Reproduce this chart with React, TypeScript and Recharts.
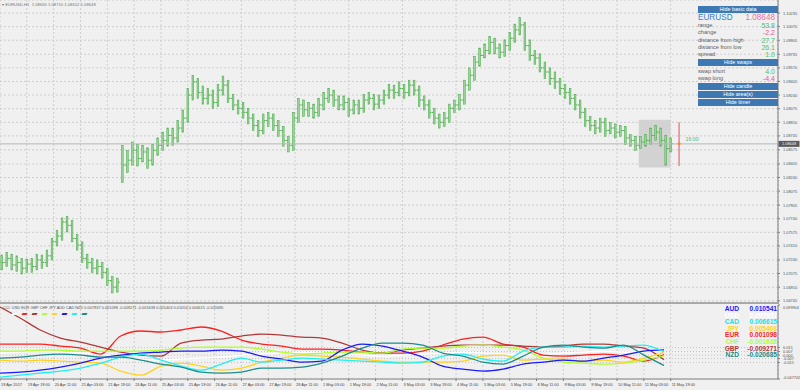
import React from "react";
import {
  ComposedChart,
  Bar,
  Line,
  XAxis,
  YAxis,
  CartesianGrid,
  ReferenceLine,
  ReferenceArea,
  ReferenceDot,
} from "recharts";

// EURUSD, 3-hour blocks: [high, low, close]
const candles: [number, number, number][] = [
  [1.0730, 1.0712, 1.0721], [1.0733, 1.0716, 1.0726], [1.0731, 1.0712, 1.0718], [1.0729, 1.0710, 1.0721],
  [1.0726, 1.0707, 1.0714], [1.0725, 1.0709, 1.0719], [1.0726, 1.0709, 1.0716], [1.0731, 1.0712, 1.0724],
  [1.0730, 1.0714, 1.0721], [1.0736, 1.0716, 1.0729], [1.0750, 1.0724, 1.0746], [1.0760, 1.0741, 1.0753],
  [1.0775, 1.0748, 1.0770], [1.0777, 1.0758, 1.0766], [1.0772, 1.0746, 1.0750], [1.0755, 1.0736, 1.0742],
  [1.0746, 1.0721, 1.0726], [1.0731, 1.0714, 1.0721], [1.0726, 1.0709, 1.0714], [1.0724, 1.0707, 1.0716],
  [1.0721, 1.0702, 1.0709], [1.0714, 1.0693, 1.0699], [1.0704, 1.0684, 1.0691], [1.0702, 1.0685, 1.0697],
  [1.0863, 1.0818, 1.0839], [1.0857, 1.0830, 1.0845], [1.0867, 1.0839, 1.0857], [1.0864, 1.0838, 1.0847],
  [1.0863, 1.0843, 1.0855], [1.0860, 1.0835, 1.0845], [1.0864, 1.0839, 1.0857], [1.0872, 1.0851, 1.0863],
  [1.0879, 1.0857, 1.0869], [1.0884, 1.0862, 1.0875], [1.0884, 1.0863, 1.0872], [1.0893, 1.0867, 1.0884],
  [1.0906, 1.0879, 1.0896], [1.0932, 1.0891, 1.0924], [1.0948, 1.0918, 1.0940], [1.0944, 1.0920, 1.0927],
  [1.0935, 1.0913, 1.0920], [1.0932, 1.0913, 1.0924], [1.0930, 1.0908, 1.0915], [1.0937, 1.0910, 1.0930],
  [1.0947, 1.0924, 1.0936], [1.0942, 1.0915, 1.0920], [1.0925, 1.0906, 1.0912], [1.0918, 1.0901, 1.0908],
  [1.0915, 1.0896, 1.0903], [1.0908, 1.0889, 1.0896], [1.0901, 1.0881, 1.0887], [1.0893, 1.0874, 1.0881],
  [1.0901, 1.0877, 1.0893], [1.0903, 1.0886, 1.0896], [1.0901, 1.0881, 1.0887], [1.0893, 1.0874, 1.0881],
  [1.0886, 1.0862, 1.0869], [1.0874, 1.0855, 1.0863], [1.0903, 1.0857, 1.0896], [1.0920, 1.0891, 1.0912],
  [1.0918, 1.0898, 1.0906], [1.0915, 1.0898, 1.0908], [1.0913, 1.0896, 1.0903], [1.0920, 1.0898, 1.0912],
  [1.0927, 1.0906, 1.0920], [1.0932, 1.0915, 1.0924], [1.0930, 1.0910, 1.0918], [1.0923, 1.0906, 1.0912],
  [1.0923, 1.0906, 1.0915], [1.0920, 1.0898, 1.0906], [1.0918, 1.0901, 1.0912], [1.0918, 1.0901, 1.0908],
  [1.0925, 1.0903, 1.0918], [1.0927, 1.0913, 1.0920], [1.0925, 1.0906, 1.0913], [1.0924, 1.0908, 1.0918],
  [1.0930, 1.0913, 1.0924], [1.0937, 1.0920, 1.0930], [1.0936, 1.0920, 1.0927], [1.0940, 1.0923, 1.0932],
  [1.0937, 1.0920, 1.0927], [1.0942, 1.0923, 1.0936], [1.0942, 1.0924, 1.0930], [1.0935, 1.0910, 1.0918],
  [1.0923, 1.0906, 1.0912], [1.0918, 1.0896, 1.0903], [1.0908, 1.0889, 1.0896], [1.0901, 1.0884, 1.0891],
  [1.0903, 1.0886, 1.0896], [1.0913, 1.0891, 1.0908], [1.0918, 1.0903, 1.0912], [1.0925, 1.0906, 1.0918],
  [1.0942, 1.0913, 1.0936], [1.0957, 1.0930, 1.0948], [1.0971, 1.0942, 1.0964], [1.0981, 1.0959, 1.0972],
  [1.0986, 1.0969, 1.0978], [1.0995, 1.0974, 1.0988], [1.0993, 1.0974, 1.0981], [1.0986, 1.0969, 1.0976],
  [1.0991, 1.0971, 1.0984], [1.1000, 1.0978, 1.0993], [1.1010, 1.0988, 1.1003], [1.1018, 1.0997, 1.1009],
  [1.1012, 1.0978, 1.0984], [1.0991, 1.0966, 1.0972], [1.0978, 1.0961, 1.0969], [1.0974, 1.0952, 1.0957],
  [1.0964, 1.0944, 1.0952], [1.0957, 1.0937, 1.0944], [1.0952, 1.0932, 1.0940], [1.0944, 1.0925, 1.0932],
  [1.0937, 1.0920, 1.0927], [1.0932, 1.0913, 1.0920], [1.0925, 1.0906, 1.0912], [1.0918, 1.0896, 1.0903],
  [1.0908, 1.0886, 1.0893], [1.0898, 1.0881, 1.0887], [1.0893, 1.0877, 1.0884], [1.0896, 1.0879, 1.0891],
  [1.0896, 1.0874, 1.0881], [1.0891, 1.0877, 1.0884], [1.0889, 1.0872, 1.0879], [1.0887, 1.0874, 1.0881],
  [1.0886, 1.0864, 1.0872], [1.0876, 1.0862, 1.0869], [1.0874, 1.0857, 1.0863], [1.0874, 1.0859, 1.0867],
  [1.0876, 1.0862, 1.0869], [1.0884, 1.0864, 1.0875], [1.0887, 1.0869, 1.0879], [1.0884, 1.0862, 1.0869],
  [1.0875, 1.0839, 1.0859], [1.0872, 1.0855, 1.0865],
];

// currency strength lines, one point every 12 bars
const usd = [0.004, 0.006, 0.008, 0.006, 0.004, 0.002, -0.004, -0.008, -0.010, -0.008, -0.006, -0.004, 0.000, 0.002, 0.004, 0.006, 0.004, 0.002, 0.000, -0.002, 0.000, 0.002, 0.004, 0.006, 0.004, 0.002, 0.000, 0.002, 0.004, 0.006, 0.008, 0.006, 0.008, 0.0079];
const eur = [0.022, 0.022, 0.022, 0.018, 0.014, 0.002, 0.038, 0.048, 0.046, 0.050, 0.056, 0.048, 0.030, 0.022, 0.018, 0.012, 0.012, 0.010, 0.006, 0.004, 0.004, 0.008, 0.020, 0.032, 0.036, 0.022, 0.016, 0.000, -0.002, 0.000, 0.002, -0.002, -0.012, 0.0011];
const gbp = [0.096, 0.074, 0.050, 0.034, 0.026, 0.016, 0.006, 0.000, -0.002, 0.024, 0.030, 0.032, 0.038, 0.042, 0.040, 0.036, 0.034, 0.024, 0.010, 0.004, 0.010, 0.014, 0.018, 0.020, 0.020, 0.020, 0.018, 0.016, 0.018, 0.022, 0.022, 0.018, 0.014, -0.0093];
const chf = [0.008, 0.008, 0.010, 0.010, 0.008, 0.008, 0.008, 0.008, 0.010, 0.014, 0.016, 0.016, 0.016, 0.012, 0.006, 0.002, 0.004, 0.006, 0.006, 0.004, 0.012, 0.014, 0.014, 0.018, 0.020, 0.016, 0.010, -0.006, -0.014, -0.016, -0.018, -0.016, -0.010, -0.0016];
const jpy = [-0.010, -0.012, -0.010, -0.012, -0.014, -0.016, -0.032, -0.040, -0.022, -0.016, -0.022, -0.030, -0.026, -0.014, -0.006, 0.000, -0.002, -0.004, -0.008, -0.012, -0.014, -0.014, -0.014, -0.012, -0.002, 0.000, -0.010, -0.008, -0.008, -0.012, -0.010, -0.014, -0.006, 0.0054];
const aud = [-0.036, -0.034, -0.030, -0.024, -0.016, -0.006, 0.000, 0.004, 0.006, 0.008, 0.008, 0.010, 0.008, -0.002, -0.008, -0.014, -0.012, 0.010, 0.022, 0.018, 0.008, -0.004, -0.022, -0.028, -0.032, -0.028, -0.018, -0.014, -0.010, -0.012, -0.006, 0.000, 0.008, 0.0105];
const cad = [-0.044, -0.040, -0.036, -0.032, -0.026, -0.016, -0.004, 0.002, -0.010, -0.022, -0.030, -0.018, -0.006, -0.014, -0.010, -0.006, -0.008, -0.010, -0.012, -0.014, -0.016, -0.014, -0.002, 0.002, -0.008, -0.012, 0.008, 0.016, 0.016, 0.018, 0.016, 0.018, 0.020, 0.0066];
const nzd = [-0.006, -0.004, 0.000, 0.002, 0.000, -0.004, -0.004, -0.010, -0.018, -0.024, -0.034, -0.036, -0.034, -0.026, -0.026, -0.024, -0.016, -0.002, 0.014, 0.024, 0.024, 0.020, 0.004, -0.002, -0.014, -0.018, -0.002, 0.016, 0.020, 0.016, 0.014, 0.020, 0.000, -0.0207];

const timeTicks = [0, 16, 32, 48, 64, 80, 96, 112, 128, 144, 160, 176, 192, 208, 224, 240, 256, 272, 288, 304, 320, 336, 352, 368, 384, 400];
const timeLabels = [
  "19 Apr 2017", "19 Apr 19:00", "20 Apr 11:00", "21 Apr 03:00", "21 Apr 19:00", "24 Apr 11:00",
  "25 Apr 03:00", "25 Apr 19:00", "26 Apr 11:00", "27 Apr 03:00", "27 Apr 19:00", "28 Apr 11:00",
  "1 May 03:00", "1 May 19:00", "2 May 11:00", "3 May 03:00", "3 May 19:00", "4 May 11:00",
  "5 May 03:00", "5 May 19:00", "8 May 11:00", "9 May 03:00", "9 May 19:00", "10 May 11:00",
  "11 May 03:00", "11 May 19:00",
];
const priceTicks = [
  1.10235, 1.1007, 1.09905, 1.09735, 1.0957, 1.09405, 1.0924, 1.09075, 1.0891, 1.08745, 1.08575,
  1.08405, 1.0824, 1.08075, 1.07905, 1.0774, 1.07575, 1.0741, 1.0724, 1.07075, 1.0691, 1.06745,
];
const strengthTicks = [0.099904, 0.015, 0.007, 0, -0.007, -0.015, -0.047702];

const lastPrice = 1.08648;
const currencies = [
  { name: "USD", key: "usd", color: "#ffffff", values: usd },
  { name: "EUR", key: "eur", color: "#ff2020", values: eur },
  { name: "GBP", key: "gbp", color: "#b03a3a", values: gbp },
  { name: "CHF", key: "chf", color: "#adff2f", values: chf },
  { name: "JPY", key: "jpy", color: "#ffd21f", values: jpy },
  { name: "AUD", key: "aud", color: "#1a1aff", values: aud },
  { name: "CAD", key: "cad", color: "#22f0f0", values: cad },
  { name: "NZD", key: "nzd", color: "#1e8c8c", values: nzd },
];
const ranking = [
  { name: "AUD", value: "0.010541", color: "#1a1aff" },
  { name: "USD", value: "0.007937", color: "#ffffff" },
  { name: "CAD", value: "0.006615", color: "#22e0e0" },
  { name: "JPY", value: "0.005403", color: "#ffd21f" },
  { name: "EUR", value: "0.001098", color: "#ff2020" },
  { name: "CHF", value: "-0.001638", color: "#adff2f" },
  { name: "GBP", value: "-0.009271", color: "#b03a3a" },
  { name: "NZD", value: "-0.020685", color: "#1e8c8c" },
];

const candleData = candles.map(([h, l, c], i) => ({
  t: i * 3 + 1,
  hl: [l, h],
  close: c,
  open: i > 0 ? candles[i - 1][2] : c,
}));
const strengthData = usd.map((_, k) => {
  const row: Record<string, number> = { t: k * 12 };
  currencies.forEach((cur) => (row[cur.key] = cur.values[k]));
  return row;
});

const FONT = "'Liberation Sans', Arial, sans-serif";
const BG = "#f0f0f0";
const GRID = "#cdcdcd";
const AXIS = "#7c7c7c";

function CandleShape(props: any) {
  const { x, y, width, height, payload } = props;
  const [lo, hi] = payload.hl;
  const top = Math.min(y, y + height);
  const h = Math.abs(height);
  const cx = x + width / 2;
  const pos = (v: number) => top + ((hi - v) / (hi - lo || 1)) * h;
  const yc = pos(payload.close);
  const openInside = payload.open <= hi && payload.open >= lo;
  return (
    <g>
      <rect x={cx - 0.8} y={top} width={1.6} height={h} fill="#9fd69f" stroke="#4fae4f" strokeWidth={0.6} />
      {openInside && (
        <line x1={cx - 2.3} x2={cx - 0.8} y1={pos(payload.open)} y2={pos(payload.open)} stroke="#4fae4f" strokeWidth={1} />
      )}
      <line x1={cx + 0.8} x2={cx + 2.3} y1={yc} y2={yc} stroke="#4fae4f" strokeWidth={1} />
    </g>
  );
}

function PriceTick(props: any) {
  const { x, y, payload } = props;
  return (
    <text x={x + 1} y={y + 1.5} fontSize={3.9} fill="#505050" fontFamily={FONT}>
      {payload.value.toFixed(5)}
    </text>
  );
}

function StrengthTick(props: any) {
  const { x, y, payload } = props;
  const v = payload.value;
  const big = Math.abs(v) > 0.04;
  const txt = big ? v.toFixed(6) : v.toFixed(3);
  const dy = v > 0.05 ? 4 : v < -0.04 ? 0 : 1.5;
  return (
    <text x={x + 1} y={y + dy} fontSize={3.8} fill="#505050" fontFamily={FONT}>
      {txt}
    </text>
  );
}

function TimeTick(props: any) {
  const { x, y, payload } = props;
  const idx = timeTicks.indexOf(payload.value);
  return (
    <text x={x + 1} y={y + 3} fontSize={3.9} fill="#444" fontFamily={FONT}>
      {timeLabels[idx]}
    </text>
  );
}

function LastPriceTag(props: any) {
  const { viewBox } = props;
  if (!viewBox) return null;
  const x = viewBox.x + viewBox.width;
  return (
    <g>
      <rect x={x + 0.5} y={viewBox.y - 3} width={21} height={6} fill="#5a5a5a" />
      <text x={x + 4} y={viewBox.y + 1.5} fontSize={3.9} fill="#f0f0f0" fontFamily={FONT}>
        {lastPrice.toFixed(5)}
      </text>
    </g>
  );
}

function TimerLabel(props: any) {
  const { viewBox } = props;
  if (!viewBox) return null;
  return (
    <text x={viewBox.x + 8} y={viewBox.y - 1} fontSize={5.2} fill="#4fb886" fontFamily={FONT}>
      16:00
    </text>
  );
}

const btn: React.CSSProperties = {
  position: "absolute",
  left: 698,
  width: 80,
  height: 7,
  background: "#3d78b3",
  color: "#fff",
  fontSize: 5.4,
  lineHeight: "7px",
  textAlign: "center",
  fontFamily: FONT,
};

function Row({ top, label, value, color }: { top: number; label: string; value: string; color: string }) {
  return (
    <>
      <div style={{ position: "absolute", left: 698, top: top - 3, fontSize: 5.6, lineHeight: "6px", color: "#5c5c5c", fontFamily: FONT, whiteSpace: "nowrap" }}>
        {label}
      </div>
      <div style={{ position: "absolute", right: 25, top: top - 3.5, fontSize: 7, lineHeight: "7px", color, fontFamily: FONT }}>
        {value}
      </div>
    </>
  );
}

export default function App() {
  const green = "#4cc068";
  const pink = "#ea5a86";
  return (
    <div style={{ position: "absolute", left: 0, top: 0, width: 800, height: 390, background: BG, overflow: "hidden" }}>
      {/* main price panel */}
      <div style={{ position: "absolute", left: 0, top: 0 }}>
        <ComposedChart width={800} height={303} data={candleData} margin={{ top: 0, right: 0, bottom: 0, left: 0 }}>
          <CartesianGrid stroke={GRID} strokeDasharray="2 2" />
          <XAxis dataKey="t" type="number" domain={[0, 464]} ticks={timeTicks} hide allowDataOverflow />
          <YAxis
            orientation="right"
            type="number"
            domain={[1.06718, 1.10393]}
            ticks={priceTicks}
            interval={0}
            width={22}
            tickSize={2}
            tick={<PriceTick />}
            axisLine={{ stroke: AXIS }}
            tickLine={{ stroke: AXIS }}
            allowDataOverflow
          />
          <ReferenceArea x1={381} x2={400} y1={1.0836} y2={1.0894} fill="#d2d2d2" fillOpacity={1} stroke="none" />
          <ReferenceLine y={lastPrice} stroke="#b8b8b8" strokeWidth={1} label={<LastPriceTag />} />
          <Bar dataKey="hl" barSize={3} shape={<CandleShape />} isAnimationActive={false} />
          <ReferenceLine
            segment={[{ x: 405, y: 1.0891 }, { x: 405, y: 1.0838 }]}
            stroke="#e56a7a"
            strokeWidth={1.2}
          />
          <ReferenceDot x={405} y={lastPrice} r={1.5} fill="#f08a30" stroke="none" label={<TimerLabel />} />
        </ComposedChart>
      </div>

      <div style={{ position: "absolute", left: 2, top: 2, fontSize: 4.2, lineHeight: "5px", color: "#777", fontFamily: FONT, whiteSpace: "nowrap" }}>
        ▾ EURUSD,H1&nbsp; 1.08665 1.08710 1.08612 1.08648
      </div>

      {/* info panel */}
      <div style={{ ...btn, top: 6 }}>Hide basic data</div>
      <div style={{ position: "absolute", left: 698, top: 13.5, fontSize: 8.2, lineHeight: "8px", color: "#3f7fc4", fontFamily: FONT }}>EURUSD</div>
      <div style={{ position: "absolute", right: 25, top: 13.5, fontSize: 8.2, lineHeight: "8px", color: "#e8749c", fontFamily: FONT }}>1.08648</div>
      <Row top={25} label="range" value="53.8" color={green} />
      <Row top={32} label="change" value="-2.2" color={pink} />
      <Row top={40} label="distance from high" value="27.7" color={green} />
      <Row top={47} label="distance from low" value="26.1" color={green} />
      <Row top={54} label="spread" value="1.0" color={green} />
      <div style={{ ...btn, top: 59 }}>Hide swaps</div>
      <Row top={71} label="swap short" value="4.0" color={green} />
      <Row top={78} label="swap long" value="-4.4" color={pink} />
      <div style={{ ...btn, top: 83 }}>Hide candle</div>
      <div style={{ ...btn, top: 91 }}>Hide area(s)</div>
      <div style={{ ...btn, top: 99 }}>Hide timer</div>

      {/* panel separator */}
      <div style={{ position: "absolute", left: 0, top: 302, width: 779, height: 2, background: "#a8a8a8" }} />

      {/* currency strength panel */}
      <div style={{ position: "absolute", left: 0, top: 304 }}>
        <ComposedChart width={800} height={86} data={strengthData} margin={{ top: 1, right: 0, bottom: 0, left: 0 }}>
          <CartesianGrid stroke={GRID} strokeDasharray="2 2" horizontal={false} />
          <XAxis
            dataKey="t"
            type="number"
            domain={[0, 464]}
            ticks={timeTicks}
            interval={0}
            height={11}
            tickSize={2}
            tick={<TimeTick />}
            axisLine={{ stroke: AXIS }}
            tickLine={{ stroke: AXIS }}
            allowDataOverflow
          />
          <YAxis
            orientation="right"
            type="number"
            domain={[-0.047702, 0.099904]}
            ticks={strengthTicks}
            interval={0}
            width={22}
            tickSize={2}
            tick={<StrengthTick />}
            axisLine={{ stroke: AXIS }}
            tickLine={{ stroke: AXIS }}
            allowDataOverflow
          />
          {[0.015, 0.007, 0, -0.007, -0.015].map((v) => (
            <ReferenceLine key={v} y={v} stroke="#c4c4c4" strokeDasharray="1 2" />
          ))}
          {currencies.map((cur) => (
            <Line
              key={cur.key}
              dataKey={cur.key}
              type="monotone"
              stroke={cur.color}
              strokeWidth={1.3}
              dot={false}
              isAnimationActive={false}
            />
          ))}
        </ComposedChart>
      </div>

      <div style={{ position: "absolute", left: 3, top: 305, fontSize: 3.9, lineHeight: "5px", color: "#555", fontFamily: FONT, whiteSpace: "nowrap" }}>
        CCI&nbsp; USD EUR GBP CHF JPY AUD CAD NZD 0.007937 0.001098 -0.009271 -0.001638 0.005403 0.01054 0.006615 -0.020685
      </div>
      {currencies.map((cur, i) => (
        <div
          key={cur.key}
          style={{ position: "absolute", left: 12 + i * 10, top: 313, width: 5, height: 2, background: cur.color, transform: "skewX(-30deg)" }}
        />
      ))}
      {ranking.map((r, i) => (
        <React.Fragment key={r.name}>
          <div style={{ position: "absolute", right: 61, top: 306 + i * 6.6, fontSize: 6.6, lineHeight: "6px", fontWeight: "bold", color: r.color, fontFamily: FONT }}>
            {r.name}
          </div>
          <div style={{ position: "absolute", right: 23, top: 306 + i * 6.6, fontSize: 6.6, lineHeight: "6px", fontWeight: "bold", color: r.color, fontFamily: FONT }}>
            {r.value}
          </div>
        </React.Fragment>
      ))}
    </div>
  );
}
